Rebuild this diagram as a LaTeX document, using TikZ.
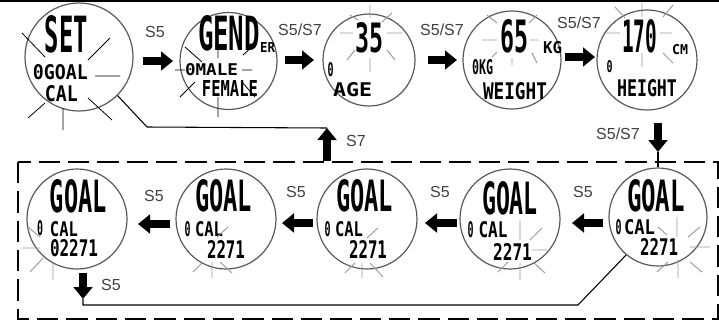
\documentclass[tikz,border=0pt]{standalone}
\usepackage{fontspec}
\usepackage{graphicx}
\setmainfont{Liberation Sans}
\newfontfamily\lcdfont{DejaVu Sans Mono}
\usetikzlibrary{arrows.meta}
\newlength\pxu
\setlength\pxu{0.75pt}
\newcommand\lcd[3]{\resizebox{#1\pxu}{#2\pxu}{\lcdfont\bfseries #3}}
\begin{document}
\begin{tikzpicture}[x=0.75pt,y=-0.75pt,
  dial/.style={circle, draw=black!65, line width=0.9pt, inner sep=0pt},
  lcdt/.style={inner sep=0pt, outer sep=0pt, anchor=center},
  lbl/.style={font=\fontsize{12}{14}\selectfont, text=black!75, inner sep=0pt},
  barrow/.style={line width=5.3pt, -{Triangle[length=9pt,width=14pt]}},
  link/.style={line width=0.8pt},
  blinkd/.style={black, line width=0.6pt},
  blinkg/.style={black!40, line width=0.7pt},
  framebox/.style={line width=0.9pt, dash pattern=on 16pt off 6pt}]
\useasboundingbox (0,0) rectangle (719,322);
\draw[line width=1.5pt] (0,1) -- (719,1);

% ---------- top row ----------
\node[dial, minimum size=81pt] (c1) at (79,57) {};
\node[lcdt] (t1a) at (66.5,34) {\lcd{43}{37}{SET}};
\node[lcdt] (t1b) at (60.5,72.5) {\lcd{55}{15}{0GOAL}};
\node[lcdt] (t1c) at (61.5,94) {\lcd{33}{16}{CAL}};
\draw[blinkd] (22,33) -- (45,57) (88,60) -- (110,38) (95,76) -- (120,76)
  (28,118) -- (45,103) (63,108) -- (63,130) (88,98) -- (112,120);

\node[dial, minimum size=72.75pt] (c2) at (228.5,61) {};
\node[lcdt] (t2a) at (229,33) {\lcd{62}{35}{GEND}};
\node[lcdt] (t2b) at (267.5,47) {\lcd{15}{10}{ER}};
\node[lcdt] (t2c) at (211.5,70) {\lcd{53}{12}{0MALE}};
\node[lcdt] (t2d) at (230,88.5) {\lcd{56}{16}{FEMALE}};
\draw[blinkd] (185,47) -- (202,62) (175,70) -- (185,70) (242,70) -- (252,70)
  (218,43) -- (218,58) (252,47) -- (243,55) (180,97) -- (195,82)
  (242,82) -- (255,97) (218,97) -- (218,117);

\node[dial, minimum size=69pt] (c3) at (369,60) {};
\node[lcdt] (t3a) at (369,38) {\lcd{28}{30}{35}};
\node[lcdt] (t3b) at (330.5,69.5) {\lcd{6}{14}{0}};
\node[lcdt] (t3c) at (352.5,90) {\lcd{39}{14}{AGE}};
\draw[blinkg] (340,33) -- (353,33) (387,33) -- (402,33) (370,5) -- (370,18)
  (350,15) -- (358,20) (392,13) -- (382,22) (347,60) -- (355,50)
  (387,50) -- (395,60) (370,58) -- (370,72);

\node[dial, minimum size=73.5pt] (c4) at (512,60) {};
\node[lcdt] (t4a) at (514,36.5) {\lcd{28}{33}{65}};
\node[lcdt] (t4b) at (552.5,48) {\lcd{19}{12}{KG}};
\node[lcdt] (t4c) at (482.5,67.5) {\lcd{21}{15}{0KG}};
\node[lcdt] (t4d) at (515,91.5) {\lcd{64}{17}{WEIGHT}};
\draw[blinkg] (482,40) -- (497,40) (530,40) -- (538,40) (487,15) -- (497,23)
  (537,15) -- (529,23) (492,57) -- (497,52) (512,58) -- (512,65) (532,53) -- (537,63);

\node[dial, minimum size=75pt] (c5) at (647,60) {};
\node[lcdt] (t5a) at (639.5,36.5) {\lcd{35}{33}{170}};
\node[lcdt] (t5b) at (680,50) {\lcd{16}{10}{CM}};
\node[lcdt] (t5c) at (609.5,67) {\lcd{6}{12}{0}};
\node[lcdt] (t5d) at (647,88.5) {\lcd{60}{17}{HEIGHT}};
\draw[blinkg] (642,3) -- (642,17) (615,7) -- (625,18) (673,5) -- (663,17)
  (603,33) -- (620,33) (660,33) -- (672,33) (642,53) -- (642,67) (663,53) -- (673,63);

% top arrows and labels
\coordinate (a1s) at (143,61); \coordinate (a1e) at (173,61);
\coordinate (a2s) at (285,60); \coordinate (a2e) at (314,60);
\coordinate (a3s) at (428,60); \coordinate (a3e) at (457,60);
\coordinate (a4s) at (565,57); \coordinate (a4e) at (595,57);
\draw[barrow] (a1s) -- (a1e);
\draw[barrow] (a2s) -- (a2e);
\draw[barrow] (a3s) -- (a3e);
\draw[barrow] (a4s) -- (a4e);
\node[lbl] (l1) at (155,32) {S5};
\node[lbl] (l2) at (300,30) {S5/S7};
\node[lbl] (l3) at (442,30) {S5/S7};
\node[lbl] (l4) at (579,23) {S5/S7};

% ---------- dashed frame ----------
\draw[framebox] (18,162) rectangle (718,319);

% ---------- bottom row ----------
\node[dial, minimum size=75pt] (b1) at (77,219) {};
\node[lcdt] (u1a) at (78.5,196.5) {\lcd{57}{33}{GOAL}};
\node[lcdt] (u1b) at (40,228.5) {\lcd{6}{15}{0}};
\node[lcdt] (u1c) at (64,229.5) {\lcd{28}{15}{CAL}};
\node[lcdt] (u1d) at (74,248.5) {\lcd{48}{17}{02271}};
\draw[blinkg] (22,248) -- (40,248) (30,272) -- (43,258) (53,263) -- (53,280) (28,227) -- (40,237);

\node[dial, minimum size=75pt] (b2) at (226,219) {};
\node[lcdt] (u2a) at (223.5,196) {\lcd{57}{32}{GOAL}};
\node[lcdt] (u2b) at (187.5,229.5) {\lcd{6}{15}{0}};
\node[lcdt] (u2c) at (209,229.5) {\lcd{28}{15}{CAL}};
\node[lcdt] (u2d) at (226,249) {\lcd{38}{18}{2271}};
\draw[blinkg] (228,227) -- (217,237) (193,272) -- (203,262) (212,262) -- (212,278) (220,262) -- (232,273);

\node[dial, minimum size=75pt] (b3) at (367,219) {};
\node[lcdt] (u3a) at (364.5,196) {\lcd{57}{32}{GOAL}};
\node[lcdt] (u3b) at (327.5,229.5) {\lcd{6}{15}{0}};
\node[lcdt] (u3c) at (349,229.5) {\lcd{28}{15}{CAL}};
\node[lcdt] (u3d) at (368,249) {\lcd{38}{18}{2271}};
\draw[blinkg] (378,228) -- (367,238) (345,273) -- (355,263) (362,263) -- (362,278) (370,263) -- (383,277);

\node[dial, minimum size=75pt] (b4) at (510,219) {};
\node[lcdt] (u4a) at (510,198) {\lcd{56}{33}{GOAL}};
\node[lcdt] (u4b) at (470.5,230) {\lcd{6}{16}{0}};
\node[lcdt] (u4c) at (493,230) {\lcd{29}{16}{CAL}};
\node[lcdt] (u4d) at (512.5,251.5) {\lcd{39}{17}{2271}};
\draw[blinkg] (520,220) -- (520,240) (542,228) -- (530,240) (532,250) -- (547,250)
  (498,272) -- (508,262) (520,263) -- (520,280) (533,262) -- (545,273);

\node[dial, minimum size=73.5pt] (b5) at (658,217) {};
\node[lcdt] (u5a) at (656,196) {\lcd{58}{32}{GOAL}};
\node[lcdt] (u5b) at (618.5,227.5) {\lcd{6}{15}{0}};
\node[lcdt] (u5c) at (639.5,227.5) {\lcd{31}{15}{CAL}};
\node[lcdt] (u5d) at (659,246.5) {\lcd{38}{17}{2271}};
\draw[blinkg] (677,217) -- (677,237) (700,227) -- (688,237) (690,247) -- (710,247)
  (657,272) -- (668,262) (678,260) -- (678,278) (690,262) -- (702,272) (658,227) -- (667,235);

% bottom arrows and labels
\coordinate (d1s) at (170,224); \coordinate (d1e) at (138,224);
\coordinate (d2s) at (313,223); \coordinate (d2e) at (282,223);
\coordinate (d3s) at (457,223); \coordinate (d3e) at (425,223);
\coordinate (d4s) at (603,223); \coordinate (d4e) at (572,223);
\draw[barrow] (d1s) -- (d1e);
\draw[barrow] (d2s) -- (d2e);
\draw[barrow] (d3s) -- (d3e);
\draw[barrow] (d4s) -- (d4e);
\node[lbl] (m1) at (154,196) {S5};
\node[lbl] (m2) at (296,192) {S5};
\node[lbl] (m3) at (440,192) {S5};
\node[lbl] (m4) at (583,192) {S5};

% ---------- vertical transitions ----------
\coordinate (v1s) at (658,123); \coordinate (v1e) at (658,152);
\draw[barrow] (v1s) -- (v1e);
\draw[link] (v1e) -- (b5.north);
\node[lbl] (n1) at (618,134) {S5/S7};

\coordinate (s7b) at (327,161); \coordinate (s7t) at (327,128);
\coordinate (k1) at (147,127);
\draw[barrow] (s7b) -- (s7t);
\draw[link] (c1.-45) -- (k1) -- (s7t);
\node[lbl] (n2) at (356,141) {S7};

\coordinate (w1s) at (83,273); \coordinate (w1e) at (83,299);
\coordinate (k2) at (83,305); \coordinate (k3) at (578,305);
\draw[barrow] (w1s) -- (w1e);
\draw[link] (w1e) -- (k2) -- (k3) -- (b5.230);
\node[lbl] (n3) at (111,285) {S5};
\end{tikzpicture}
\end{document}
